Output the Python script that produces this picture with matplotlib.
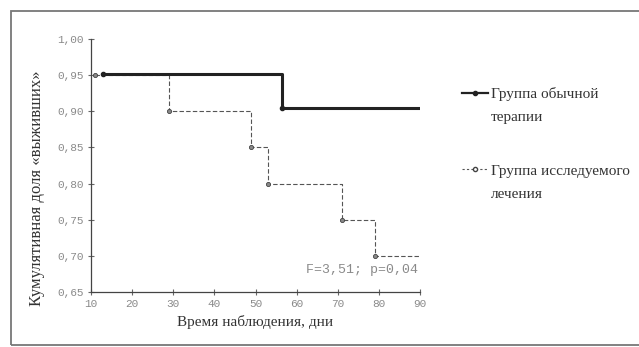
import matplotlib.pyplot as plt
from matplotlib.lines import Line2D

# данные
days_std = [13, 56.5, 90]
surv_std = [0.952, 0.904, 0.904]
days_new = [11, 29, 49, 53, 71, 79, 90]
surv_new = [0.95, 0.90, 0.85, 0.80, 0.75, 0.70, 0.70]
yticks = [0.65, 0.70, 0.75, 0.80, 0.85, 0.90, 0.95, 1.00]
xticks = [10, 20, 30, 40, 50, 60, 70, 80, 90]

mono = 'Liberation Mono'
serif = 'Liberation Serif'
gray = '#8a8a8a'

fig = plt.figure(figsize=(6.39, 3.47), dpi=100)
ax = fig.add_axes([0.1424, 0.1585, 0.515, 0.729])

ax.step(days_new, surv_new, where='post', color='#555555', lw=0.8, ls=(0, (4, 2)),
        marker='o', ms=3, mfc='#888888', mec='#444444', mew=0.6,
        markevery=list(range(len(days_new) - 1)))
ax.step(days_std, surv_std, where='post', color='#222222', lw=2.2,
        marker='o', ms=3, mfc='#222222', mec='#222222', markevery=[0, 1])

ax.set_xlim(10, 90)
ax.set_ylim(0.65, 1.00)
ax.set_xticks(xticks)
ax.set_yticks(yticks)
ax.set_xticklabels([str(t) for t in xticks], family=mono, fontsize=8, color=gray)
ax.set_yticklabels([f'{t:.2f}'.replace('.', ',') for t in yticks], family=mono,
                   fontsize=8, color=gray)
ax.tick_params(direction='inout', length=4, width=0.8, color='#666666', pad=3)
for s in ['top', 'right']:
    ax.spines[s].set_visible(False)
for s in ['left', 'bottom']:
    ax.spines[s].set_color('#444444')
    ax.spines[s].set_linewidth(0.9)

ax.set_xlabel('Время наблюдения, дни', family=serif, fontsize=11, color='#333333')
ax.xaxis.set_label_coords(0.5, -0.09)
ax.set_ylabel('Кумулятивная доля «выживших»', family=serif, fontsize=12, color='#333333')
ax.yaxis.set_label_coords(-0.14, 0.41)
ax.text(89.5, 0.68, 'F=3,51; p=0,04', family=mono, fontsize=9.5, color=gray,
        ha='right', va='center')

# легенда
h1 = Line2D([], [], color='#222222', lw=1.6, marker='o', ms=3)
h2 = Line2D([], [], color='#555555', lw=0.8, ls=(0, (2, 2)), marker='o', ms=3,
            mfc='white', mec='#444444')
blank = Line2D([], [], lw=0)
kw = dict(loc='upper left', frameon=False, borderpad=0, borderaxespad=0,
          handlelength=1.7, handletextpad=0.2, labelspacing=0.6,
          prop={'family': serif, 'size': 11}, labelcolor='#333333')
fig.legend([h1, blank], ['Группа обычной', 'терапии'],
           bbox_to_anchor=(462 / 639, 1 - 87 / 347), **kw)
fig.legend([h2, blank], ['Группа исследуемого', 'лечения'],
           bbox_to_anchor=(462 / 639, 1 - 164 / 347), **kw)

# рамка
frame = plt.Rectangle((11 / 639, 2 / 347), 1.1, 1 - 13 / 347, transform=fig.transFigure,
                      fill=False, ec='#777777', lw=1.3)
fig.add_artist(frame)

fig.savefig('out.png', dpi=100)
